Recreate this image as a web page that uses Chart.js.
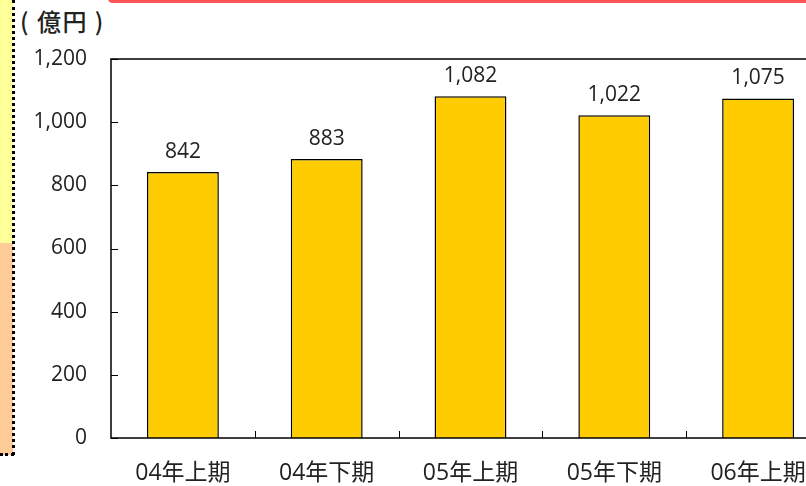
<!DOCTYPE html>
<html>
<head>
<meta charset="utf-8">
<script src="https://cdn.jsdelivr.net/npm/chart.js@4"></script>
<style>
  html, body { margin: 0; padding: 0; background: #fff; overflow: hidden; }
  body { width: 806px; height: 486px; position: relative; font-family: "Open Sans", "Noto Sans CJK JP", sans-serif; }
  #wrap { position: absolute; left: 0; top: 0; width: 830px; height: 486px; }
  .strip-y { position: absolute; left: 0; top: 0; width: 13px; height: 243px; background: #FFFF99; }
  .strip-o { position: absolute; left: 0; top: 243px; width: 13px; height: 212px; background: #FFCC99; }
  .dots-v { position: absolute; left: 12px; top: 0; width: 0; height: 455px; border-left: 3px dotted #000; }
  .dots-h { position: absolute; left: 0; top: 453px; width: 14px; height: 0; border-top: 3px dotted #000; }
  .topbar { position: absolute; left: 108px; top: -6px; width: 720px; height: 9px; background: #FF5555; border-radius: 8px; }
  .unit { position: absolute; left: 20px; top: 3px; font-size: 24px; letter-spacing: 1.5px; color: #222; white-space: pre; font-family: "Noto Sans CJK JP", sans-serif; font-weight: 500; }
</style>
</head>
<body>
<div class="strip-y"></div>
<div class="strip-o"></div>
<div class="dots-v"></div>
<div class="dots-h"></div>
<div class="topbar"></div>
<div class="unit">( 億円 )</div>
<div id="wrap"><canvas id="chart"></canvas></div>
<script>
// ── データ ──
const periods = ['04年上期', '04年下期', '05年上期', '05年下期', '06年上期'];
const sales = [842, 883, 1082, 1022, 1075];
const yTicks = [0, 200, 400, 600, 800, 1000, 1200];

const fmt = v => v.toLocaleString('en-US');
const FONT = '"Open Sans", "Noto Sans CJK JP", sans-serif';

// 枠線・内向き目盛り・値ラベル
const decor = {
  id: 'decor',
  afterDatasetsDraw(chart) {
    const { ctx, chartArea: a, scales: { x, y } } = chart;
    ctx.save();
    ctx.strokeStyle = '#000';
    ctx.lineWidth = 1.5;
    ctx.beginPath();
    ctx.moveTo(a.right, a.top);
    ctx.lineTo(a.left, a.top);
    ctx.lineTo(a.left, a.bottom);
    ctx.lineTo(a.right, a.bottom);
    ctx.stroke();

    ctx.lineWidth = 1;
    ctx.beginPath();
    y.ticks.forEach(t => {
      const py = Math.round(y.getPixelForValue(t.value)) + 0.5;
      ctx.moveTo(a.left, py);
      ctx.lineTo(a.left + 7, py);
    });
    for (let i = 1; i < periods.length; i++) {
      const px = Math.round((x.getPixelForValue(i - 1) + x.getPixelForValue(i)) / 2) + 0.5;
      ctx.moveTo(px, a.bottom);
      ctx.lineTo(px, a.bottom - 7);
    }
    ctx.stroke();

    ctx.fillStyle = '#222';
    ctx.font = '21px ' + FONT;
    ctx.textAlign = 'center';
    ctx.textBaseline = 'alphabetic';
    chart.getDatasetMeta(0).data.forEach((bar, i) => {
      ctx.fillText(fmt(sales[i]), bar.x, bar.y - 14);
    });
    ctx.restore();
  }
};

new Chart(document.getElementById('chart'), {
  type: 'bar',
  data: {
    labels: periods,
    datasets: [{
      data: sales,
      backgroundColor: '#FFCC00',
      borderColor: '#000',
      borderWidth: 1.5,
      barPercentage: 0.5,
      categoryPercentage: 1
    }]
  },
  options: {
    responsive: true,
    maintainAspectRatio: false,
    animation: false,
    layout: { padding: { top: 59, left: 0, right: 0, bottom: 0 } },
    plugins: { legend: { display: false }, tooltip: { enabled: false } },
    scales: {
      x: {
        grid: { display: false },
        border: { display: false },
        ticks: { color: '#222', padding: 14, font: { size: 23, family: FONT } },
        afterFit: s => { s.height = 48; }
      },
      y: {
        min: 0,
        max: 1200,
        afterBuildTicks: s => { s.ticks = yTicks.map(v => ({ value: v })); },
        grid: { display: false },
        border: { display: false },
        ticks: { color: '#222', padding: 16, callback: v => fmt(v), font: { size: 21, family: FONT } },
        afterFit: s => { s.width = 111; }
      }
    }
  },
  plugins: [decor]
});
</script>
</body>
</html>
